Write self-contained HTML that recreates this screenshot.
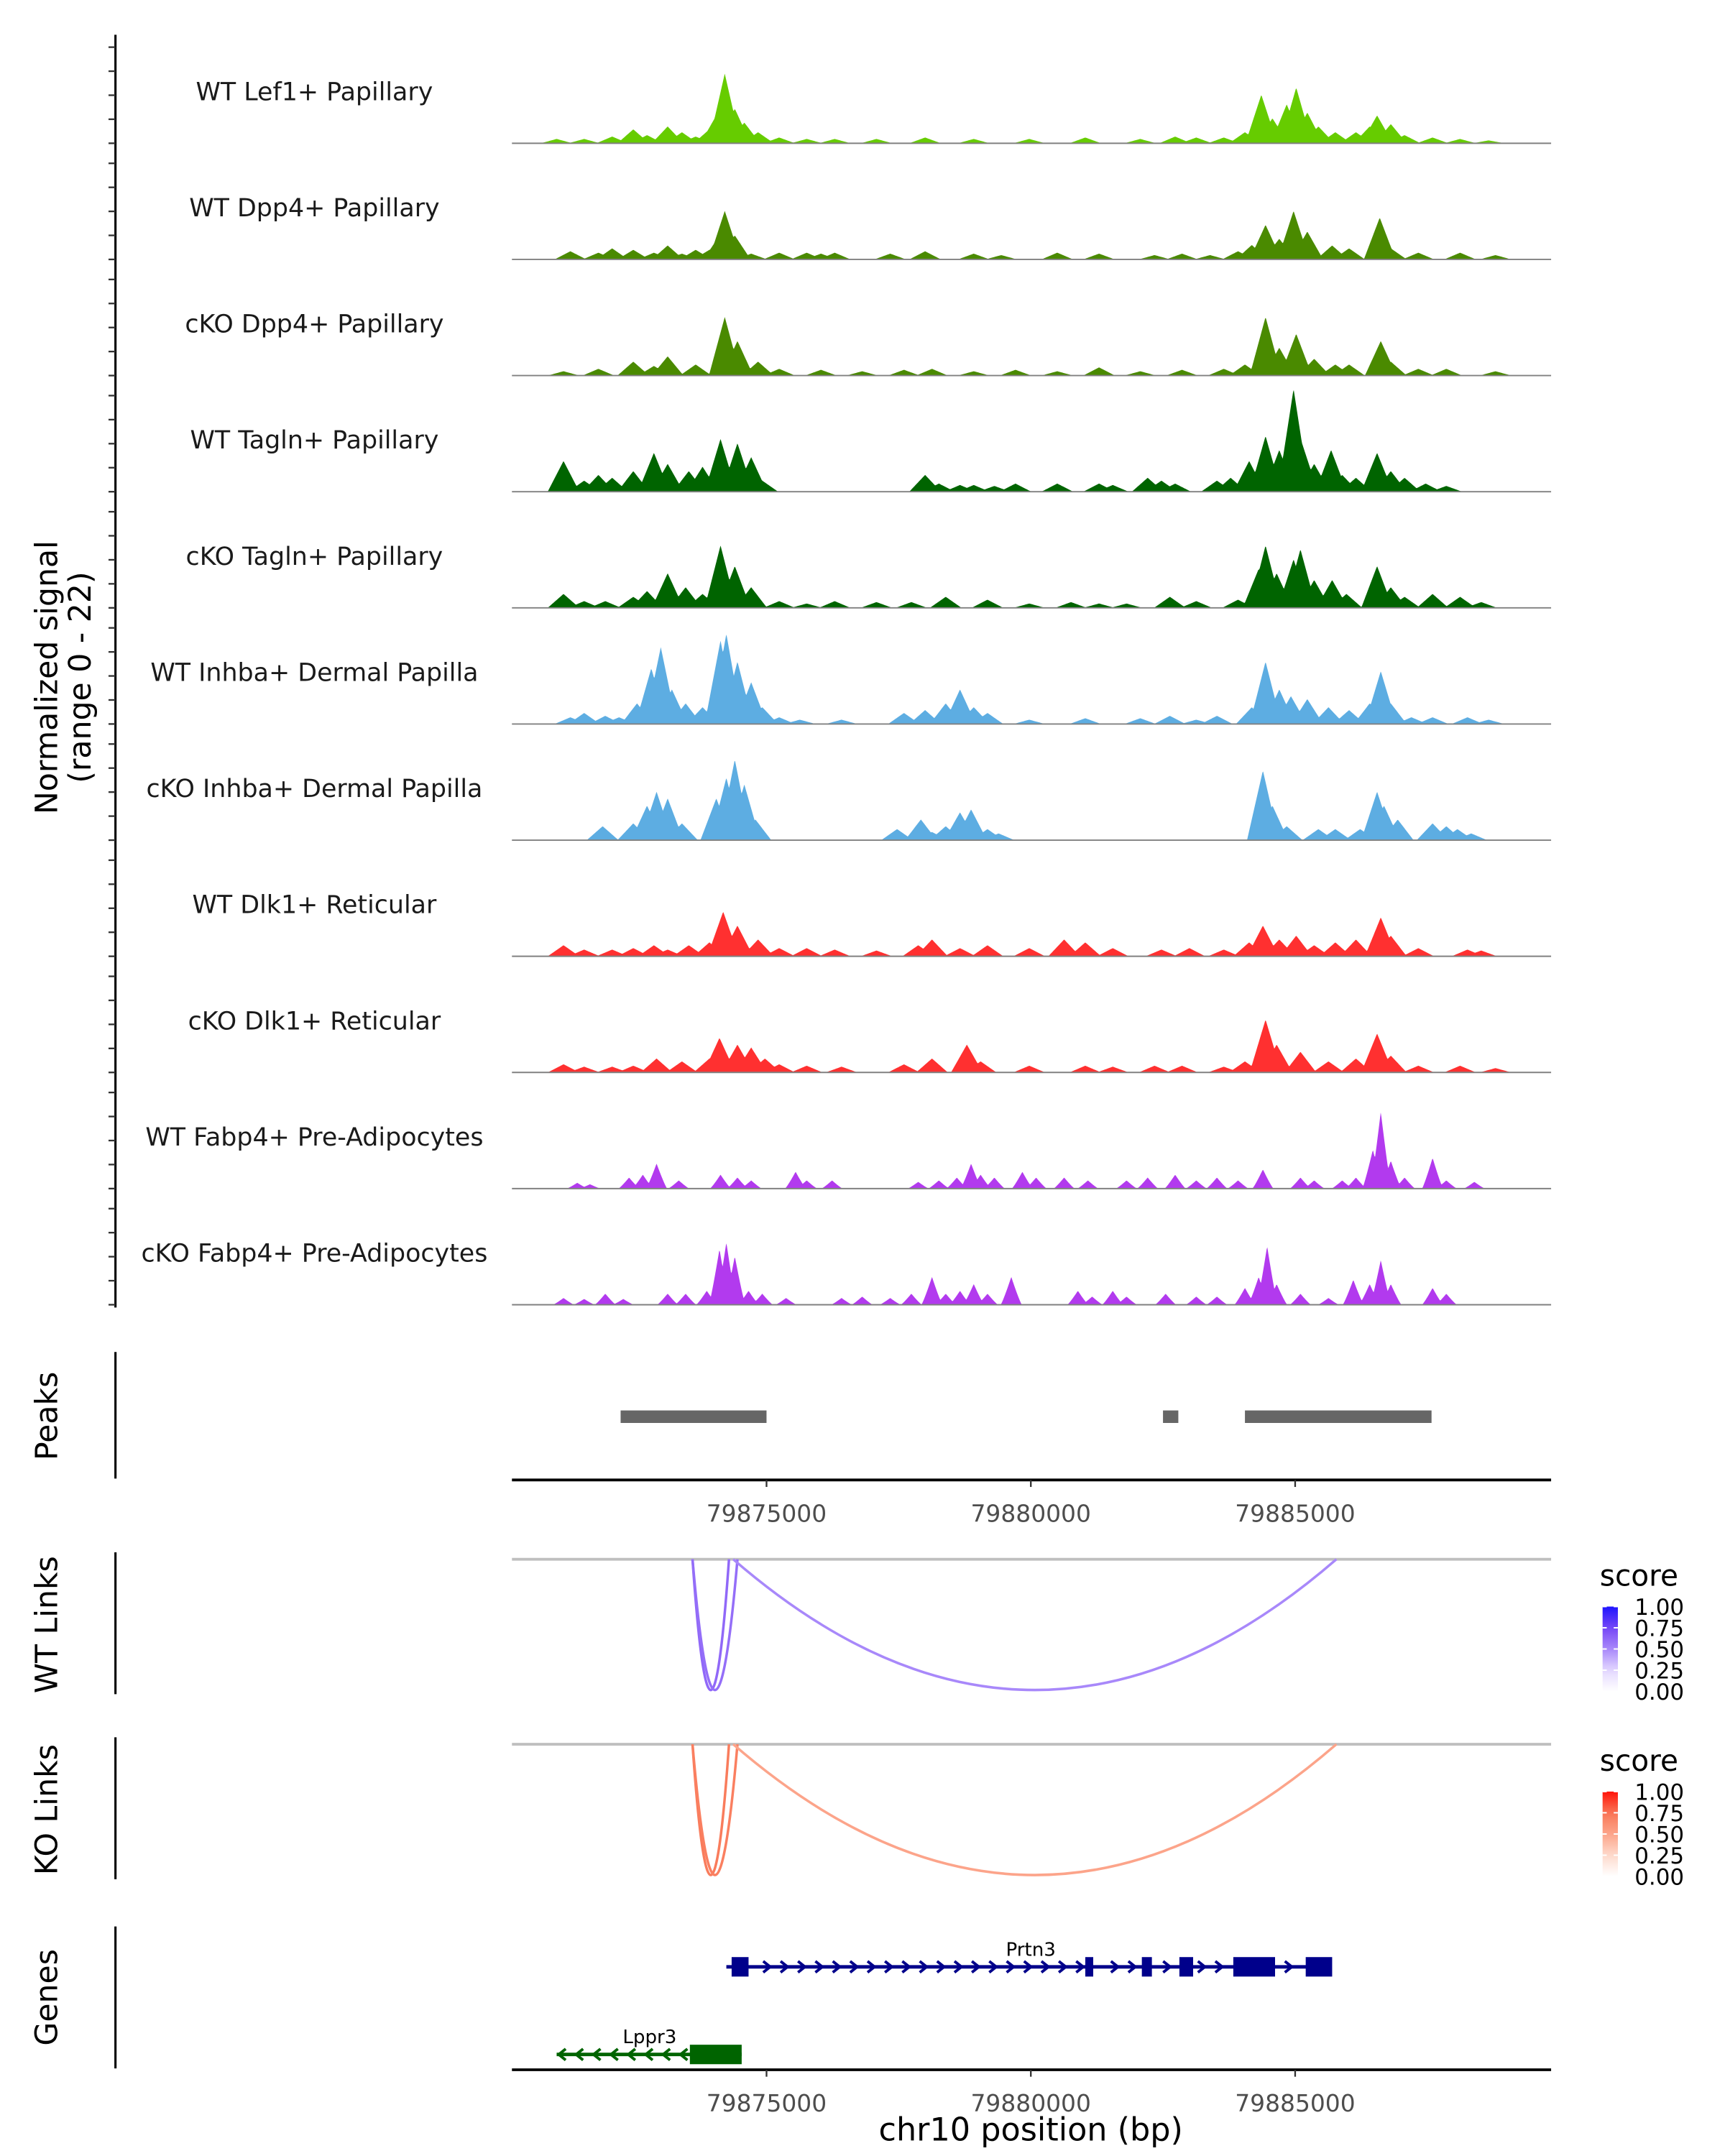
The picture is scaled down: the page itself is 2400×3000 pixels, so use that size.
<!DOCTYPE html>
<html><head><meta charset="utf-8">
<style>
html,body{margin:0;padding:0;background:#fff;}
svg{display:block;font-family:"DejaVu Sans","Liberation Sans",sans-serif;}
</style></head>
<body>
<svg id="fig" width="2400" height="3000" viewBox="0 0 1240 1550" xmlns="http://www.w3.org/2000/svg">
<rect x="0" y="0" width="1240" height="1550" fill="#fff"/>
</svg>
<script>
// Positions are kb offsets from chr10:79,870,000; signal in normalized units (0-22)
const trackNames = ["WT Lef1+ Papillary","WT Dpp4+ Papillary","cKO Dpp4+ Papillary","WT Tagln+ Papillary","cKO Tagln+ Papillary","WT Inhba+ Dermal Papilla","cKO Inhba+ Dermal Papilla","WT Dlk1+ Reticular","cKO Dlk1+ Reticular","WT Fabp4+ Pre-Adipocytes","cKO Fabp4+ Pre-Adipocytes"];
const trackColors = ["#66cc00","#4a8a00","#4a8a00","#006400","#006400","#5dade2","#5dade2","#ff3030","#ff3030","#b23aee","#b23aee"];
const sigLef1WT = [[1.03,0.9],[1.55,0.9],[2.08,1.4],[2.48,2.9],[2.74,1.7],[3.13,3.5],[3.40,2.3],[3.66,1.4],[3.92,2.9],[4.05,5.8],[4.21,14.5],[4.40,7.2],[4.58,4.3],[4.84,2.3],[5.24,1.2],[5.76,0.9],[6.29,0.9],[7.08,0.9],[8.00,1.2],[8.92,0.9],[9.97,0.9],[11.03,1.2],[12.07,0.9],[12.73,1.4],[13.13,1.2],[13.65,1.2],[14.05,2.3],[14.36,10.1],[14.57,5.2],[14.84,8.1],[15.02,11.6],[15.23,6.4],[15.44,3.5],[15.76,2.3],[16.15,2.3],[16.41,3.5],[16.55,5.8],[16.81,4],[17.07,1.7],[17.60,1.2],[18.12,0.9],[18.66,0.6]];
const sigDpp4WT = [[1.29,1.7],[1.82,1.4],[2.08,2.3],[2.48,2],[2.87,1.4],[3.13,2.9],[3.40,1.2],[3.66,2],[3.92,2],[4.11,5],[4.21,10.1],[4.40,5],[4.71,1.2],[5.24,1.4],[5.76,1.4],[6.03,1.2],[6.29,1.4],[7.34,1.2],[8.00,1.7],[8.92,1.2],[9.44,0.9],[10.50,1.4],[11.29,1.2],[12.34,0.9],[12.86,1.2],[13.39,0.9],[13.92,1.7],[14.18,3],[14.44,7.2],[14.70,4.3],[14.97,10.1],[15.23,5.8],[15.70,2.9],[16.02,2.3],[16.60,8.7],[16.81,2.3],[17.33,1.4],[18.12,1.4],[18.79,0.9]];
const sigDpp4KO = [[1.16,0.9],[1.82,1.4],[2.48,2.9],[2.87,2],[3.13,4],[3.66,2.3],[4.21,12.2],[4.45,7.2],[4.84,2.9],[5.24,1.4],[6.03,1.2],[6.81,0.9],[7.60,1.2],[8.13,1.4],[8.92,0.9],[9.71,1.2],[10.50,0.9],[11.29,1.7],[12.07,0.9],[12.86,1.2],[13.65,1.4],[14.05,2.3],[14.44,12.2],[14.70,5.8],[15.02,8.7],[15.36,3.5],[15.76,2.3],[16.02,2.3],[16.62,7.2],[16.81,2.9],[17.33,1.4],[17.86,1.4],[18.79,0.9]];
const sigTaglnWT = [[1.16,6.4],[1.55,2.3],[1.82,3.5],[2.08,2.9],[2.48,4.3],[2.87,8.1],[3.13,5.8],[3.53,4.3],[3.79,5.2],[4.13,11],[4.45,10.1],[4.71,7.2],[4.92,2.3],[8.00,3.5],[8.26,1.7],[8.66,1.4],[8.92,1.4],[9.31,1.2],[9.71,1.7],[10.50,1.7],[11.29,1.7],[11.55,1.4],[12.21,2.9],[12.47,2.3],[12.73,1.7],[13.52,2.3],[13.78,2.9],[14.13,6.4],[14.44,11.6],[14.70,8.7],[14.97,21.4],[15.13,10.1],[15.36,5.8],[15.68,8.7],[15.89,3.5],[16.15,2.9],[16.55,8.1],[16.81,4.3],[17.07,2.9],[17.47,1.7],[17.86,1.2]];
const sigTaglnKO = [[1.16,2.9],[1.55,1.4],[1.95,1.4],[2.48,2.3],[2.74,3.5],[3.13,7.2],[3.47,4.3],[3.79,2.9],[4.13,13],[4.40,8.7],[4.71,4.3],[5.24,1.4],[5.76,0.9],[6.29,1.4],[7.08,1.2],[7.74,1.2],[8.39,2.3],[9.18,1.7],[9.97,0.9],[10.76,1.2],[11.29,0.9],[11.81,0.9],[12.63,2.3],[13.13,1.4],[13.92,1.7],[14.31,8.1],[14.44,13],[14.65,7.2],[14.97,10.1],[15.10,12.2],[15.36,5.8],[15.70,5.8],[15.97,2.9],[16.55,8.7],[16.81,4.3],[17.07,2.3],[17.60,2.9],[18.12,2.3],[18.52,1.2]];
const sigInhbaWT = [[1.29,1.4],[1.55,2.3],[1.95,1.7],[2.21,1.4],[2.55,4.3],[2.82,11.6],[3.00,16],[3.21,7.2],[3.47,4.3],[3.79,3.5],[4.13,17.4],[4.24,18.8],[4.45,13],[4.71,8.7],[4.92,3.5],[5.24,1.4],[5.63,0.9],[6.42,0.9],[7.60,2.3],[8.00,2.9],[8.39,4.3],[8.66,7.2],[8.92,3.5],[9.18,2.3],[9.97,0.9],[11.03,1.2],[12.07,1.2],[12.63,1.7],[13.13,0.9],[13.52,1.7],[14.18,3.5],[14.44,13],[14.70,7.2],[14.92,5.8],[15.23,5.2],[15.63,3.5],[16.02,2.9],[16.41,4.3],[16.62,11],[16.81,4.3],[17.20,1.4],[17.60,1.4],[18.26,1.4],[18.66,0.9]];
const sigInhbaKO = [[1.90,2.9],[2.48,3.5],[2.74,7.2],[2.92,10.1],[3.13,8.7],[3.40,3.5],[4.05,8.7],[4.24,13],[4.40,16.8],[4.58,11.6],[4.79,4.3],[7.47,2.3],[7.92,4.3],[8.13,1.7],[8.39,2.9],[8.66,5.8],[8.87,6.4],[9.18,2.3],[9.39,1.4],[14.39,14.5],[14.57,7.2],[14.84,2.9],[15.44,2.3],[15.76,2.3],[16.23,2.3],[16.55,10.1],[16.68,7.2],[16.94,4.3],[17.60,3.5],[17.86,2.9],[18.07,2.3],[18.33,1.4]];
const sigDlk1WT = [[1.16,2.3],[1.55,1.4],[2.08,1.4],[2.48,1.7],[2.87,2.3],[3.13,1.4],[3.53,2.3],[3.92,2.9],[4.18,9.3],[4.45,6.4],[4.84,3.5],[5.24,1.7],[5.76,1.7],[6.29,1.4],[7.08,1.2],[7.87,2.3],[8.13,3.5],[8.66,1.7],[9.18,2.3],[9.97,1.7],[10.63,3.5],[11.03,2.9],[11.55,1.7],[12.47,1.4],[13.00,1.7],[13.65,1.4],[14.13,2.9],[14.39,6.4],[14.70,3.5],[15.02,4.3],[15.36,2.3],[15.76,2.9],[16.15,3.5],[16.62,8.1],[16.81,4.3],[17.33,1.7],[18.26,1.4],[18.52,1.2]];
const sigDlk1KO = [[1.16,1.7],[1.55,1.2],[2.08,1.2],[2.48,1.4],[2.92,2.9],[3.40,2.3],[3.92,2.9],[4.11,7.2],[4.45,5.8],[4.71,5.2],[4.97,2.9],[5.24,1.7],[5.76,1.4],[6.42,1.2],[7.60,1.7],[8.13,2.9],[8.79,5.8],[9.05,2.3],[9.97,1.4],[11.03,1.4],[11.55,1.2],[12.34,1.4],[12.86,1.4],[13.65,1.2],[14.05,2.3],[14.44,11],[14.65,5.8],[15.10,4.3],[15.63,2.3],[16.15,2.9],[16.55,8.1],[16.81,3.5],[17.33,1.4],[18.12,1.4],[18.79,0.9]];
const sigFabp4WT = [[1.42,1.2],[1.66,0.9],[2.40,2.3],[2.66,2.9],[2.92,5.2],[3.34,1.7],[4.13,2.9],[4.45,2.3],[4.71,1.7],[5.55,3.5],[5.76,1.7],[6.24,1.7],[7.87,1.4],[8.26,1.7],[8.60,2.3],[8.87,5.2],[9.05,2.9],[9.31,2.3],[9.84,3.5],[10.10,2.3],[10.63,2.3],[11.08,1.7],[11.81,1.7],[12.21,2.3],[12.73,2.9],[13.13,1.7],[13.52,2.3],[13.92,1.7],[14.39,4],[15.10,2.3],[15.36,1.7],[15.89,1.7],[16.15,2.3],[16.47,8.1],[16.62,16],[16.81,5.8],[17.07,2.3],[17.60,6.4],[17.86,1.7],[18.39,1.4]];
const sigFabp4KO = [[1.16,1.4],[1.55,1.2],[1.95,2.3],[2.29,1.2],[3.13,2.3],[3.47,2.3],[3.87,2.9],[4.11,11.6],[4.24,13],[4.40,10.1],[4.66,2.9],[4.92,2.3],[5.37,1.4],[6.42,1.4],[6.81,1.7],[7.34,1.4],[7.74,2.3],[8.13,5.8],[8.39,2.3],[8.66,2.9],[8.92,4.3],[9.18,2.3],[9.63,5.8],[10.89,2.9],[11.16,1.7],[11.55,2.9],[11.81,1.7],[12.55,2.3],[13.13,1.7],[13.52,1.7],[14.05,3.5],[14.31,5.8],[14.47,12.2],[14.65,4.3],[15.10,2.3],[15.63,1.4],[16.10,5.2],[16.41,4.3],[16.62,9.3],[16.81,4.3],[17.60,3.5],[17.86,2.3]];
const signals = [sigLef1WT,sigDpp4WT,sigDpp4KO,sigTaglnWT,sigTaglnKO,sigInhbaWT,sigInhbaKO,sigDlk1WT,sigDlk1KO,sigFabp4WT,sigFabp4KO];
const peakRegions = [[2.24,5.00],[12.50,12.79],[14.05,17.58]];
const xTicks = [5,10,15];
const xTickLabels = ["79875000","79880000","79885000"];
const yTicks = [0,5,10,15,20];
const wtLinks = [[3.60,4.29,0.62],[3.60,4.45,0.6],[4.37,15.78,0.5]];
const koLinks = [[3.60,4.29,0.72],[3.60,4.45,0.7],[4.37,15.78,0.5]];
const legendLabels = ["1.00","0.75","0.50","0.25","0.00"];
const prtn3 = {start:4.24,end:15.68,exons:[[4.34,4.66],[11.03,11.18],[12.10,12.29],[12.81,13.07],[13.83,14.62],[15.20,15.70]]};
const lppr3 = {start:1.03,end:4.53,exons:[[3.55,4.53]]};

const NS="http://www.w3.org/2000/svg";
const svg=document.getElementById('fig');
const X0=368,X1=1115,D0=0.184,PXKB=38.0;
function xs(o){return X0+(o-D0)*PXKB;}
function add(tag,attrs,parent,text){const e=document.createElementNS(NS,tag);for(const k in attrs)e.setAttribute(k,attrs[k]);if(text!==undefined)e.textContent=text;(parent||svg).appendChild(e);return e;}
const YS=76/22;
const bases=[];for(let i=0;i<11;i++)bases.push(103+i*83.5);

let ax=add('line',{x1:83,y1:25,x2:83,y2:940,stroke:'#000','stroke-width':1.6});


let yt=add('text',{transform:'translate(41,487) rotate(-90)','text-anchor':'middle','font-size':22,fill:'#000'});


add('tspan',{x:0,dy:0},yt,'Normalized signal');
add('tspan',{x:0,dy:24},yt,'(range 0 - 22)');

signals.forEach((sig,i)=>{
  const b=bases[i];
  const g=add('g',{});
  
  
  yTicks.forEach(v=>{add('line',{x1:78,x2:83,y1:b-v*YS,y2:b-v*YS,stroke:'#333','stroke-width':1.2},g);});
  const w=(i>=9)?0.2:0.3, ex=(i>=9)?1.15:1.0;
  let d='M'+X0+','+b;
  for(let px=X0;px<=X1;px+=0.5){
    const o=D0+(px-X0)/PXKB;let v=0;
    for(const p of sig){const dd=Math.abs(o-p[0]);if(dd<w){const t=p[1]*Math.pow(1-dd/w,ex);if(t>v)v=t;}}
    d+=' L'+px.toFixed(1)+','+(b-v*YS).toFixed(2);
  }
  d+=' L'+X1+','+b+' Z';
  const a=add('path',{d:d,fill:trackColors[i],stroke:'none'},g);
  
  
  add('line',{x1:X0,x2:X1,y1:b,y2:b,stroke:'#808080','stroke-width':1},g);
  const t=add('text',{x:226,y:b-31,'text-anchor':'middle','font-size':18,fill:'#1a1a1a'},g,trackNames[i]);
  
  
});

function panelAxis(y1,y2,label,cy){
  const l=add('line',{x1:83,y1:y1,x2:83,y2:y2,stroke:'#000','stroke-width':1.6});
  
  
  const t=add('text',{transform:'translate(41,'+cy+') rotate(-90)','text-anchor':'middle','font-size':22,fill:'#000'},null,label);
  
  
}
function xAxis(y,name){
  const l=add('line',{x1:X0,x2:X1,y1:y,y2:y,stroke:'#000','stroke-width':2});
  
  
  xTicks.forEach((v,k)=>{
    add('line',{x1:xs(v),x2:xs(v),y1:y,y2:y+5,stroke:'#333','stroke-width':1.2});
    const t=add('text',{x:xs(v),y:y+30,'text-anchor':'middle','font-size':17,fill:'#4d4d4d'},null,xTickLabels[k]);
    
    
  });
}
panelAxis(972,1063,'Peaks',1018);
peakRegions.forEach(p=>{
  const r=add('rect',{x:xs(p[0]),y:1014,width:xs(p[1])-xs(p[0]),height:9,fill:'#666'});
  
  
});
xAxis(1064,'peaks-x-axis');

function mix(stops,s){for(let k=1;k<stops.length;k++){if(s<=stops[k][0]){const a=stops[k-1],b=stops[k];const t=(s-a[0])/(b[0]-a[0]);const c=[0,1,2].map(j=>Math.round(a[1][j]+(b[1][j]-a[1][j])*t));return 'rgb('+c.join(',')+')';}}return 'rgb('+stops[stops.length-1][1].join(',')+')';}
const blueStops=[[0,[255,255,255]],[0.25,[228,216,255]],[0.5,[168,136,250]],[0.75,[118,70,246]],[1,[30,20,255]]];
const redStops=[[0,[255,255,255]],[0.25,[254,218,204]],[0.5,[252,164,138]],[0.75,[249,118,86]],[1,[255,20,10]]];
function linksPanel(top,links,stops,label,name){
  panelAxis(top-5,top+97,label,top+47);
  add('line',{x1:X0,x2:X1,y1:top,y2:top,stroke:'#bfbfbf','stroke-width':2});
  const bottom=top+94;
  links.forEach(l=>{
    const a=xs(l[0]),b=xs(l[1]);
    const p=add('path',{d:'M'+a+','+top+' Q'+((a+b)/2)+','+(2*bottom-top)+' '+b+','+top,fill:'none',stroke:mix(stops,l[2]),'stroke-width':1.8});
    
    
  });
  const lg=add('g',{});
  
  
  add('text',{x:1150,y:top+19,'font-size':21,fill:'#000'},lg,'score');
  const gid=name+'grad';
  const defs=add('defs',{},lg);
  const gr=add('linearGradient',{id:gid,x1:0,y1:1,x2:0,y2:0},defs);
  for(let k=0;k<=10;k++)add('stop',{offset:(k*10)+'%','stop-color':mix(stops,k/10)},gr);
  const by=top+34;
  add('rect',{x:1152,y:by,width:11,height:61,fill:'url(#'+gid+')'},lg);
  legendLabels.forEach((t,k)=>{
    const yy=by+k*15.25;
    add('line',{x1:1152,x2:1155,y1:yy,y2:yy,stroke:'#fff','stroke-width':1},lg);
    add('line',{x1:1160,x2:1163,y1:yy,y2:yy,stroke:'#fff','stroke-width':1},lg);
    add('text',{x:1175,y:yy+6,'font-size':16,fill:'#000'},lg,t);
  });
}
linksPanel(1121,wtLinks,blueStops,'WT Links','wt-links');
linksPanel(1254,koLinks,redStops,'KO Links','ko-links');

panelAxis(1385,1487,'Genes',1436);
function drawGene(gene,y,color,plus,label,lx,name){
  const g=add('g',{});
  
  
  add('line',{x1:xs(gene.start),x2:xs(gene.end),y1:y,y2:y,stroke:color,'stroke-width':2.5},g);
  const inEx=px=>gene.exons.some(e=>px>=xs(e[0])-3&&px<=xs(e[1])+3);
  for(let px=xs(gene.start)+4;px<xs(gene.end)-2;px+=12.5){
    if(inEx(px))continue;
    const d=plus?'M'+(px-2.5)+','+(y-4)+' L'+(px+2.5)+','+y+' L'+(px-2.5)+','+(y+4):'M'+(px+2.5)+','+(y-4)+' L'+(px-2.5)+','+y+' L'+(px+2.5)+','+(y+4);
    add('path',{d:d,fill:'none',stroke:color,'stroke-width':2},g);
  }
  gene.exons.forEach(e=>{add('rect',{x:xs(e[0]),y:y-7,width:xs(e[1])-xs(e[0]),height:14,fill:color},g);});
  add('text',{x:lx,y:y-8,'text-anchor':'middle','font-size':13.5,fill:'#000'},g,label);
}
drawGene(prtn3,1414,'#00008b',true,'Prtn3',741,'gene-prtn3');
drawGene(lppr3,1477,'#006400',false,'Lppr3',467,'gene-lppr3');
xAxis(1488,'genomic-x-axis');
const xt=add('text',{x:741,y:1539,'text-anchor':'middle','font-size':23,fill:'#000'},null,'chr10 position (bp)');


</script>
</body></html>
